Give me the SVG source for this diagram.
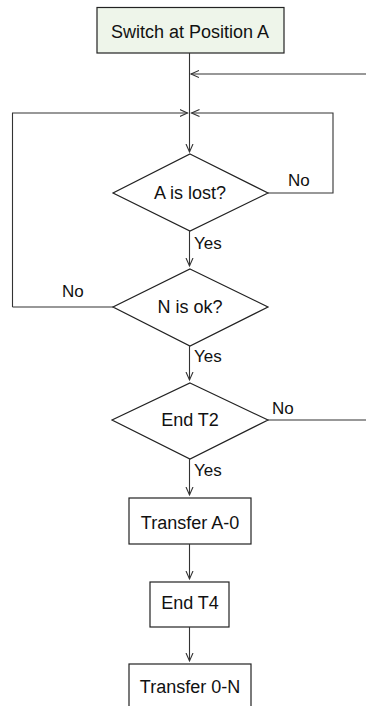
<svg xmlns="http://www.w3.org/2000/svg" width="366" height="706" viewBox="0 0 366 706">
<style>
.n{fill:#fff;stroke:#222;stroke-width:1.2}
.s{fill:#eef5ea}
.t{font-family:"Liberation Sans",Arial,sans-serif;font-size:18px;fill:#111;text-anchor:middle}
.l{font-family:"Liberation Sans",Arial,sans-serif;font-size:17px;fill:#111}
.c{fill:none;stroke:#333;stroke-width:1.1}
</style>
<defs>
<marker id="a" markerWidth="10" markerHeight="10" refX="8" refY="4" orient="auto" markerUnits="userSpaceOnUse">
<path d="M0,0.5 L8,4 L0,7.5" fill="none" stroke="#333" stroke-width="1.1"/>
</marker>
</defs>
<g id="start"><rect class="n s" x="97" y="7.5" width="187" height="45.5"/><text class="t" x="190" y="38">Switch at Position A</text></g>
<g id="d1"><polygon class="n" points="190,154 268,193 190,231 113,193"/><text class="t" x="190" y="199">A is lost?</text></g>
<g id="d2"><polygon class="n" points="190,269 268,307 190,346 113,307"/><text class="t" x="190" y="313">N is ok?</text></g>
<g id="d3"><polygon class="n" points="190,383 268,420 190,459 112,420"/><text class="t" x="190" y="426">End T2</text></g>
<g id="b1"><rect class="n" x="129" y="498" width="122" height="46"/><text class="t" x="190" y="529">Transfer A-0</text></g>
<g id="b2"><rect class="n" x="150" y="582" width="79" height="45"/><text class="t" x="190" y="609">End T4</text></g>
<g id="b3"><rect class="n" x="129" y="664" width="122" height="46"/><text class="t" x="190" y="693">Transfer 0-N</text></g>
<g id="connectors">
<path class="c" d="M189.5,53 V152" marker-end="url(#a)"/>
<path class="c" d="M366,74 H191" marker-end="url(#a)"/>
<path class="c" d="M12.5,307 V113 H187.5" marker-end="url(#a)" />
<path class="c" d="M12.5,307 H113"/>
<path class="c" d="M268,193 H333 V113 H191.5" marker-end="url(#a)"/>
<path class="c" d="M189.5,231 V266" marker-end="url(#a)"/>
<path class="c" d="M189.5,346 V380" marker-end="url(#a)"/>
<path class="c" d="M268,420 H366"/>
<path class="c" d="M189.5,459 V495" marker-end="url(#a)"/>
<path class="c" d="M189.5,544 V579" marker-end="url(#a)"/>
<path class="c" d="M189.5,627 V661" marker-end="url(#a)"/>
<text class="l" x="288" y="186">No</text>
<text class="l" x="194" y="249">Yes</text>
<text class="l" x="62" y="297">No</text>
<text class="l" x="194" y="362">Yes</text>
<text class="l" x="272" y="414">No</text>
<text class="l" x="194" y="476">Yes</text>
</g>
</svg>
